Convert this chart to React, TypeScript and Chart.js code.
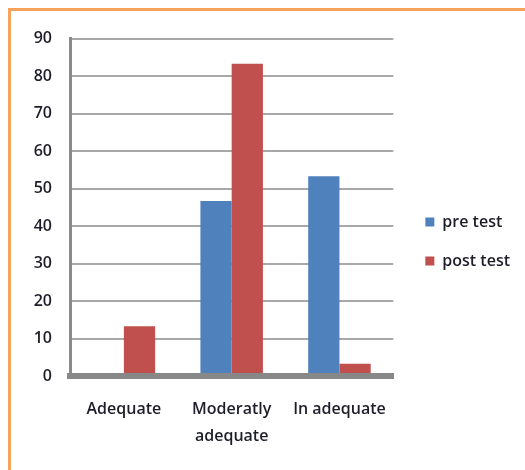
import React, { useEffect, useRef } from 'react';
import { Chart, registerables } from 'chart.js';

Chart.register(...registerables);

const categories: (string | string[])[] = ['Adequate', ['Moderatly', 'adequate'], 'In adequate'];
const preTest = [0, 46.7, 53.3];
const postTest = [13.3, 83.3, 3.3];
const seriesNames = ['pre test', 'post test'];
const yMin = 0;
const yMax = 90;
const yStep = 10;

const FONT = "'Open Sans', sans-serif";
const TEXT = '#1e1e2a';
const FS = 16;
const LEG_PAD = 23;
const BOX = 9;

export default function App() {
  const ref = useRef<HTMLCanvasElement | null>(null);

  useEffect(() => {
    document.documentElement.style.overflow = 'hidden';
    document.body.style.overflow = 'hidden';
    const canvas = ref.current;
    if (!canvas) return;
    const mctx = document.createElement('canvas').getContext('2d')!;
    mctx.font = `600 ${FS}px ${FONT}`;
    const tw = Math.max(...seriesNames.map((n) => mctx.measureText(n).width));
    const legendW = Math.ceil(LEG_PAD + BOX + FS / 2 + tw + 10);
    const legendLeft = 391;
    const padRight = Math.max(0, 514 - legendLeft - legendW);

    const chart = new Chart(canvas, {
      type: 'bar',
      data: {
        labels: categories as any,
        datasets: [
          { label: seriesNames[0], data: preTest, backgroundColor: '#4F81BD', borderWidth: 0 },
          { label: seriesNames[1], data: postTest, backgroundColor: '#C0504D', borderWidth: 0 },
        ],
      },
      options: {
        animation: false,
        responsive: false,
        layout: { padding: { top: 23, left: 0, right: padRight, bottom: 21 } },
        datasets: { bar: { categoryPercentage: 0.58, barPercentage: 1 } },
        plugins: {
          tooltip: { enabled: false },
          legend: {
            position: 'right',
            align: 'center',
            maxWidth: legendW,
            labels: {
              boxWidth: BOX,
              boxHeight: BOX,
              padding: LEG_PAD,
              color: TEXT,
              font: { family: FONT, size: FS, weight: '600' as any },
            },
          },
        },
        scales: {
          x: {
            grid: { display: false, drawTicks: false },
            border: { display: true, color: '#888888', width: 6, z: 1 } as any,
            ticks: {
              color: TEXT,
              padding: 20,
              maxRotation: 0,
              autoSkip: false,
              font: { family: FONT, size: FS, weight: '600' as any, lineHeight: '27px' as any },
            },
            afterFit: (s: any) => { s.height = 73; },
          },
          y: {
            min: yMin,
            max: yMax,
            grid: { color: '#a8a8a8', lineWidth: 2, drawTicks: false },
            border: { display: true, color: '#8a8a8a', width: 3 },
            ticks: {
              stepSize: yStep,
              padding: 18,
              color: TEXT,
              font: { family: FONT, size: FS, weight: '600' as any },
            },
            afterFit: (s: any) => { s.width = 59; },
          },
          pad: {
            type: 'linear',
            position: 'right',
            display: true,
            grid: { display: false, drawTicks: false },
            border: { display: false },
            ticks: { display: false },
            afterFit: (s: any) => { s.width = 9; },
          } as any,
        },
      },
    });
    return () => chart.destroy();
  }, []);

  return (
    <div
      style={{
        position: 'fixed',
        left: 8,
        top: 8,
        width: 514,
        height: 459,
        borderTop: '3px solid #F9A25C',
        borderLeft: '3px solid #F9A25C',
        background: '#fff',
      }}
    >
      <canvas ref={ref} width={514} height={459} style={{ display: 'block' }} />
    </div>
  );
}
